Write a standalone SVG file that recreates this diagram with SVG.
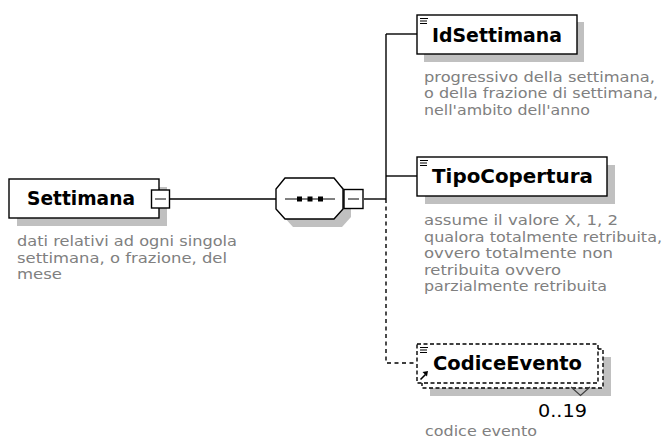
<svg xmlns="http://www.w3.org/2000/svg" width="664" height="439" viewBox="0 0 664 439">
<defs>
<style>
.bg{fill:#ffffff}
.box{fill:#ffffff;stroke:#000000;stroke-width:1.4}
.dbox{fill:#ffffff;stroke:#000000;stroke-width:1.4;stroke-dasharray:4 2.5}
.shadow{fill:#c0c0c0}
.conn{stroke:#000000;stroke-width:1.4;fill:none}
.dconn{stroke:#000000;stroke-width:1.4;fill:none;stroke-dasharray:4 3.5}
.title{font-family:"DejaVu Sans",Verdana,sans-serif;font-weight:bold;font-size:19px;fill:#000000}
.desc{font-family:"DejaVu Sans",Verdana,sans-serif;font-size:14px;fill:#808080}
.card{font-family:"DejaVu Sans",Verdana,sans-serif;font-size:18px;fill:#000000}
.icon{stroke:#000000;stroke-width:1}
</style>
</defs>
<rect class="bg" x="0" y="0" width="664" height="439"/>

<g id="connectors">
<line class="conn" x1="170" y1="199" x2="276" y2="199"/>
<line class="conn" x1="364" y1="199" x2="386" y2="199"/>
<line class="conn" x1="386" y1="34" x2="386" y2="199"/>
<line class="conn" x1="386" y1="34" x2="417" y2="34"/>
<line class="conn" x1="386" y1="176" x2="417" y2="176"/>
<polyline class="dconn" points="386,199 386,363 417,363"/>
</g>

<g id="Settimana">
<rect class="shadow" x="17" y="187" width="150" height="39"/>
<rect class="box" x="9" y="179" width="150" height="39"/>
<text class="title" x="27" y="205" textLength="108" lengthAdjust="spacingAndGlyphs">Settimana</text>
<rect class="box" x="151.5" y="190" width="18" height="18"/>
<line class="icon" x1="155" y1="199" x2="166" y2="199"/>
<text class="desc" x="17" y="246" textLength="220" lengthAdjust="spacingAndGlyphs">dati relativi ad ogni singola</text>
<text class="desc" x="17" y="262.5" textLength="210" lengthAdjust="spacingAndGlyphs">settimana, o frazione, del</text>
<text class="desc" x="17" y="279" textLength="45" lengthAdjust="spacingAndGlyphs">mese</text>
</g>

<g id="sequence">
<polygon class="shadow" points="293,186 342,186 351,197 351,217 342,227 293,227 284,217 284,197"/>
<polygon class="box" points="285,178 334,178 343,189 343,209 334,219 285,219 276,209 276,189"/>
<line class="icon" x1="285" y1="199" x2="335" y2="199"/>
<rect x="297" y="196.5" width="5" height="5" fill="#000000"/>
<rect x="307.5" y="196.5" width="5" height="5" fill="#000000"/>
<rect x="318" y="196.5" width="5" height="5" fill="#000000"/>
<rect class="box" x="344" y="189.5" width="19" height="19"/>
<line class="icon" x1="348" y1="199" x2="359" y2="199"/>
</g>

<g id="IdSettimana">
<rect class="shadow" x="424" y="22" width="160" height="40"/>
<rect class="box" x="417" y="15" width="160" height="39"/>
<line class="icon" x1="420" y1="18.5" x2="428" y2="18.5"/>
<line class="icon" x1="420" y1="21" x2="427" y2="21"/>
<line class="icon" x1="420" y1="23.5" x2="427" y2="23.5"/>
<text class="title" x="432" y="41.5" textLength="130" lengthAdjust="spacingAndGlyphs">IdSettimana</text>
<text class="desc" x="424" y="81.5" textLength="231" lengthAdjust="spacingAndGlyphs">progressivo della settimana,</text>
<text class="desc" x="424" y="98" textLength="234" lengthAdjust="spacingAndGlyphs">o della frazione di settimana,</text>
<text class="desc" x="424" y="114.5" textLength="166" lengthAdjust="spacingAndGlyphs">nell'ambito dell'anno</text>
</g>

<g id="TipoCopertura">
<rect class="shadow" x="425" y="165" width="190" height="39"/>
<rect class="box" x="417" y="157" width="190" height="39"/>
<line class="icon" x1="420" y1="160.5" x2="428" y2="160.5"/>
<line class="icon" x1="420" y1="163" x2="427" y2="163"/>
<line class="icon" x1="420" y1="165.5" x2="427" y2="165.5"/>
<text class="title" x="432" y="183" textLength="161" lengthAdjust="spacingAndGlyphs">TipoCopertura</text>
<text class="desc" x="424" y="225" textLength="194" lengthAdjust="spacingAndGlyphs">assume il valore X, 1, 2</text>
<text class="desc" x="424" y="241.5" textLength="238" lengthAdjust="spacingAndGlyphs">qualora totalmente retribuita,</text>
<text class="desc" x="424" y="258" textLength="189" lengthAdjust="spacingAndGlyphs">ovvero totalmente non</text>
<text class="desc" x="424" y="274.5" textLength="137" lengthAdjust="spacingAndGlyphs">retribuita ovvero</text>
<text class="desc" x="424" y="291" textLength="183" lengthAdjust="spacingAndGlyphs">parzialmente retribuita</text>
</g>

<g id="CodiceEvento">
<rect class="shadow" x="430" y="357" width="181" height="39"/>
<rect class="dbox" x="422" y="349" width="181" height="39"/>
<rect class="dbox" x="417" y="344" width="181" height="39"/>
<line class="icon" x1="420" y1="347.5" x2="428" y2="347.5"/>
<line class="icon" x1="420" y1="350" x2="427" y2="350"/>
<line class="icon" x1="420" y1="352.5" x2="427" y2="352.5"/>
<line x1="420.5" y1="379.5" x2="425.5" y2="374.5" stroke="#000000" stroke-width="1.6"/>
<polygon points="422.5,372 428,371 427,376.5" fill="#000000"/>
<text class="title" x="433" y="370" textLength="149" lengthAdjust="spacingAndGlyphs">CodiceEvento</text>
<polyline points="571,387 580.5,395.5 590,387" fill="none" stroke="#404040" stroke-width="1.2"/>
<text class="card" x="538" y="417" textLength="49" lengthAdjust="spacingAndGlyphs">0..19</text>
<text class="desc" x="425" y="436" textLength="112" lengthAdjust="spacingAndGlyphs">codice evento</text>
</g>
</svg>
